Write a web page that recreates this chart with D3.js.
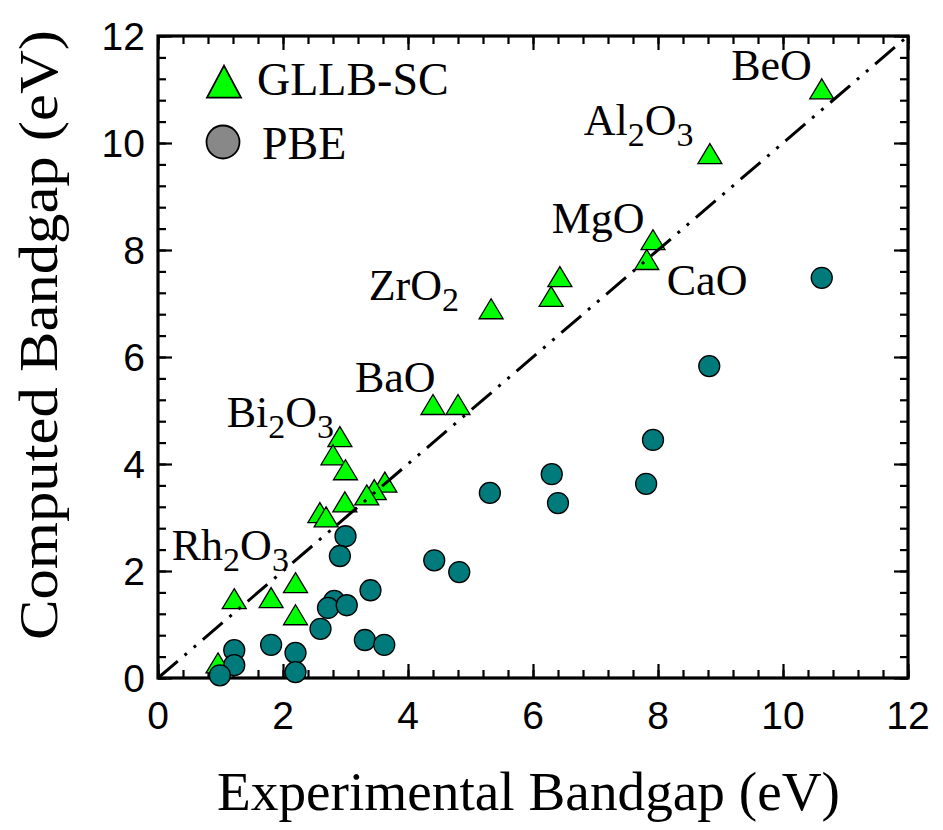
<!DOCTYPE html>
<html>
<head>
<meta charset="utf-8">
<script src="https://cdn.jsdelivr.net/npm/d3@7/dist/d3.min.js"></script>
<style>
  html, body { margin: 0; padding: 0; background: #fff; }
  svg { display: block; }
</style>
</head>
<body>
<svg id="chart" width="943" height="830"></svg>
<script>
// ---------- DATA ----------
const xTicks = [0, 2, 4, 6, 8, 10, 12];
const yTicks = [0, 2, 4, 6, 8, 10, 12];

// GLLB-SC: experimental vs computed
const gllbExp  = [10.62, 8.83, 7.92, 7.82, 6.43, 6.29, 5.33, 4.40, 4.80, 2.91, 2.80, 3.00, 3.63, 3.46, 3.34, 2.99, 2.59, 2.69, 1.22, 1.81, 2.20, 2.20, 0.96];
const gllbCalc = [10.95, 9.74, 8.13, 7.76, 7.44, 7.07, 6.84, 5.05, 5.05, 4.45, 4.11, 3.83, 3.60, 3.46, 3.36, 3.23, 3.03, 2.95, 1.42, 1.44, 1.72, 1.12, 0.22];

// PBE: experimental vs computed
const pbeExp  = [10.62, 8.82, 7.92, 7.81, 6.30, 6.40, 5.31, 4.42, 4.82, 3.00, 2.91, 3.40, 2.82, 2.72, 3.02, 2.60, 3.31, 3.62, 1.81, 2.20, 2.20, 1.22, 1.22, 0.99];
const pbeCalc = [7.48, 5.83, 4.45, 3.63, 3.81, 3.27, 3.46, 2.20, 1.98, 2.65, 2.28, 1.64, 1.44, 1.31, 1.36, 0.92, 0.71, 0.62, 0.62, 0.47, 0.11, 0.52, 0.24, 0.05];

// Annotations: [main text, subscript, text, subscript]
const labelNames = ["BeO", "Al2O3", "MgO", "CaO", "ZrO2", "BaO", "Bi2O3", "Rh2O3"];
const labelParts = [
  [["BeO", false]],
  [["Al", false], ["2", true], ["O", false], ["3", true]],
  [["MgO", false]],
  [["CaO", false]],
  [["ZrO", false], ["2", true]],
  [["BaO", false]],
  [["Bi", false], ["2", true], ["O", false], ["3", true]],
  [["Rh", false], ["2", true], ["O", false], ["3", true]]
];
// anchor positions in data units (left start of text, baseline)
const labelX = [9.17, 6.81, 6.30, 8.14, 3.37, 3.15, 1.10, 0.22];
const labelY = [11.17, 10.15, 8.32, 7.16, 7.07, 5.35, 4.69, 2.21];

const seriesNames = ["GLLB-SC", "PBE"];

// ---------- LAYOUT ----------
const svg = d3.select("#chart");
const L = 158, R = 908, T = 36, B = 678;
const x = d3.scaleLinear().domain([0, 12]).range([L, R]);
const y = d3.scaleLinear().domain([0, 12]).range([B, T]);

const serif = "'Liberation Serif', 'DejaVu Serif', serif";
const sans = "'Liberation Sans', Arial, sans-serif";
const triFill = "#00ff00";
const circFill = "#007a7a";

function triPath(w, h) {
  // centroid-centered triangle
  return `M0,${-2*h/3}L${w/2},${h/3}L${-w/2},${h/3}Z`;
}

// ---------- AXES ----------
const minorTicks = d3.range(0, 12.001, 0.4).map(v => +v.toFixed(2));
const majorLen = 14, minorLen = 8;

const axB = d3.axisBottom(x).tickValues(minorTicks).tickSizeInner(-minorLen).tickSizeOuter(0).tickFormat("");
const axT = d3.axisTop(x).tickValues(minorTicks).tickSizeInner(-minorLen).tickSizeOuter(0).tickFormat("");
const axL = d3.axisLeft(y).tickValues(minorTicks).tickSizeInner(-minorLen).tickSizeOuter(0).tickFormat("");
const axR = d3.axisRight(y).tickValues(minorTicks).tickSizeInner(-minorLen).tickSizeOuter(0).tickFormat("");

function styleAxis(g) {
  g.selectAll(".domain").remove();
  g.selectAll(".tick line").attr("stroke", "#000").attr("stroke-width", 2.2);
}
svg.append("g").attr("transform", `translate(0,${B})`).call(axB).call(styleAxis);
svg.append("g").attr("transform", `translate(0,${T})`).call(axT).call(styleAxis);
svg.append("g").attr("transform", `translate(${L},0)`).call(axL).call(styleAxis);
svg.append("g").attr("transform", `translate(${R},0)`).call(axR).call(styleAxis);

// major ticks
const mB = d3.axisBottom(x).tickValues(xTicks).tickSizeInner(-majorLen).tickSizeOuter(0).tickFormat("");
const mT = d3.axisTop(x).tickValues(xTicks).tickSizeInner(-majorLen).tickSizeOuter(0).tickFormat("");
const mL = d3.axisLeft(y).tickValues(yTicks).tickSizeInner(-majorLen).tickSizeOuter(0).tickFormat("");
const mR = d3.axisRight(y).tickValues(yTicks).tickSizeInner(-majorLen).tickSizeOuter(0).tickFormat("");
svg.append("g").attr("transform", `translate(0,${B})`).call(mB).call(styleAxis);
svg.append("g").attr("transform", `translate(0,${T})`).call(mT).call(styleAxis);
svg.append("g").attr("transform", `translate(${L},0)`).call(mL).call(styleAxis);
svg.append("g").attr("transform", `translate(${R},0)`).call(mR).call(styleAxis);

// frame
svg.append("rect").attr("x", L).attr("y", T).attr("width", R - L).attr("height", B - T)
  .attr("fill", "none").attr("stroke", "#000").attr("stroke-width", 3.2);

// tick labels
svg.append("g").selectAll("text").data(xTicks).join("text")
  .attr("x", d => x(d)).attr("y", B + 51)
  .attr("text-anchor", "middle")
  .attr("font-family", sans).attr("font-size", 39)
  .text(d => d);
svg.append("g").selectAll("text").data(yTicks).join("text")
  .attr("x", L - 13).attr("y", d => y(d)).attr("dy", "0.36em")
  .attr("text-anchor", "end")
  .attr("font-family", sans).attr("font-size", 39)
  .text(d => d);

// axis titles
svg.append("text")
  .attr("x", (217 + 840) / 2).attr("y", 810)
  .attr("text-anchor", "middle")
  .attr("font-family", serif).attr("font-size", 54)
  .attr("textLength", 623).attr("lengthAdjust", "spacingAndGlyphs")
  .text("Experimental Bandgap (eV)");
svg.append("text")
  .attr("transform", `translate(57,${(30 + 640) / 2}) rotate(-90)`)
  .attr("text-anchor", "middle")
  .attr("font-family", serif).attr("font-size", 54)
  .attr("textLength", 610).attr("lengthAdjust", "spacingAndGlyphs")
  .text("Computed Bandgap (eV)");

// ---------- MARKS ----------
const gllb = gllbExp.map((v, i) => ({ x: v, y: gllbCalc[i] }));
const pbe = pbeExp.map((v, i) => ({ x: v, y: pbeCalc[i] }));

const plot = svg.append("g");

plot.append("g").selectAll("path").data(gllb).join("path")
  .attr("transform", d => `translate(${x(d.x)},${y(d.y)})`)
  .attr("d", triPath(24, 20))
  .attr("fill", triFill).attr("stroke", "#000").attr("stroke-width", 1.3)
  .attr("stroke-linejoin", "miter");

// y = x reference line
plot.append("line")
  .attr("x1", x(0)).attr("y1", y(0)).attr("x2", x(12)).attr("y2", y(12))
  .attr("stroke", "#000").attr("stroke-width", 3)
  .attr("stroke-dasharray", "26,9,3,9,3,9");

plot.append("g").selectAll("circle").data(pbe).join("circle")
  .attr("cx", d => x(d.x)).attr("cy", d => y(d.y)).attr("r", 10.5)
  .attr("fill", circFill).attr("stroke", "#000").attr("stroke-width", 1.3);

// ---------- LABELS ----------
const labG = svg.append("g").attr("font-family", serif).attr("font-size", 44);
labelNames.forEach((name, i) => {
  const t = labG.append("text").attr("x", x(labelX[i])).attr("y", y(labelY[i]));
  let sub = false;
  labelParts[i].forEach(([s, isSub]) => {
    const ts = t.append("tspan").text(s);
    if (isSub && !sub) { ts.attr("dy", 11).attr("font-size", 34); sub = true; }
    else if (isSub && sub) { ts.attr("font-size", 34); }
    else if (!isSub && sub) { ts.attr("dy", -11); sub = false; }
  });
});

// ---------- LEGEND ----------
const leg = svg.append("g");
leg.append("path").attr("transform", "translate(224,87)").attr("d", triPath(34, 32))
  .attr("fill", triFill).attr("stroke", "#000").attr("stroke-width", 1.8);
leg.append("circle").attr("cx", 223).attr("cy", 142).attr("r", 16.5)
  .attr("fill", "#888888").attr("stroke", "#000").attr("stroke-width", 1.8);
leg.append("text").attr("x", 257).attr("y", 95).attr("font-family", serif).attr("font-size", 46).text(seriesNames[0]);
leg.append("text").attr("x", 262).attr("y", 159).attr("font-family", serif).attr("font-size", 46).text(seriesNames[1]);
</script>
</body>
</html>
